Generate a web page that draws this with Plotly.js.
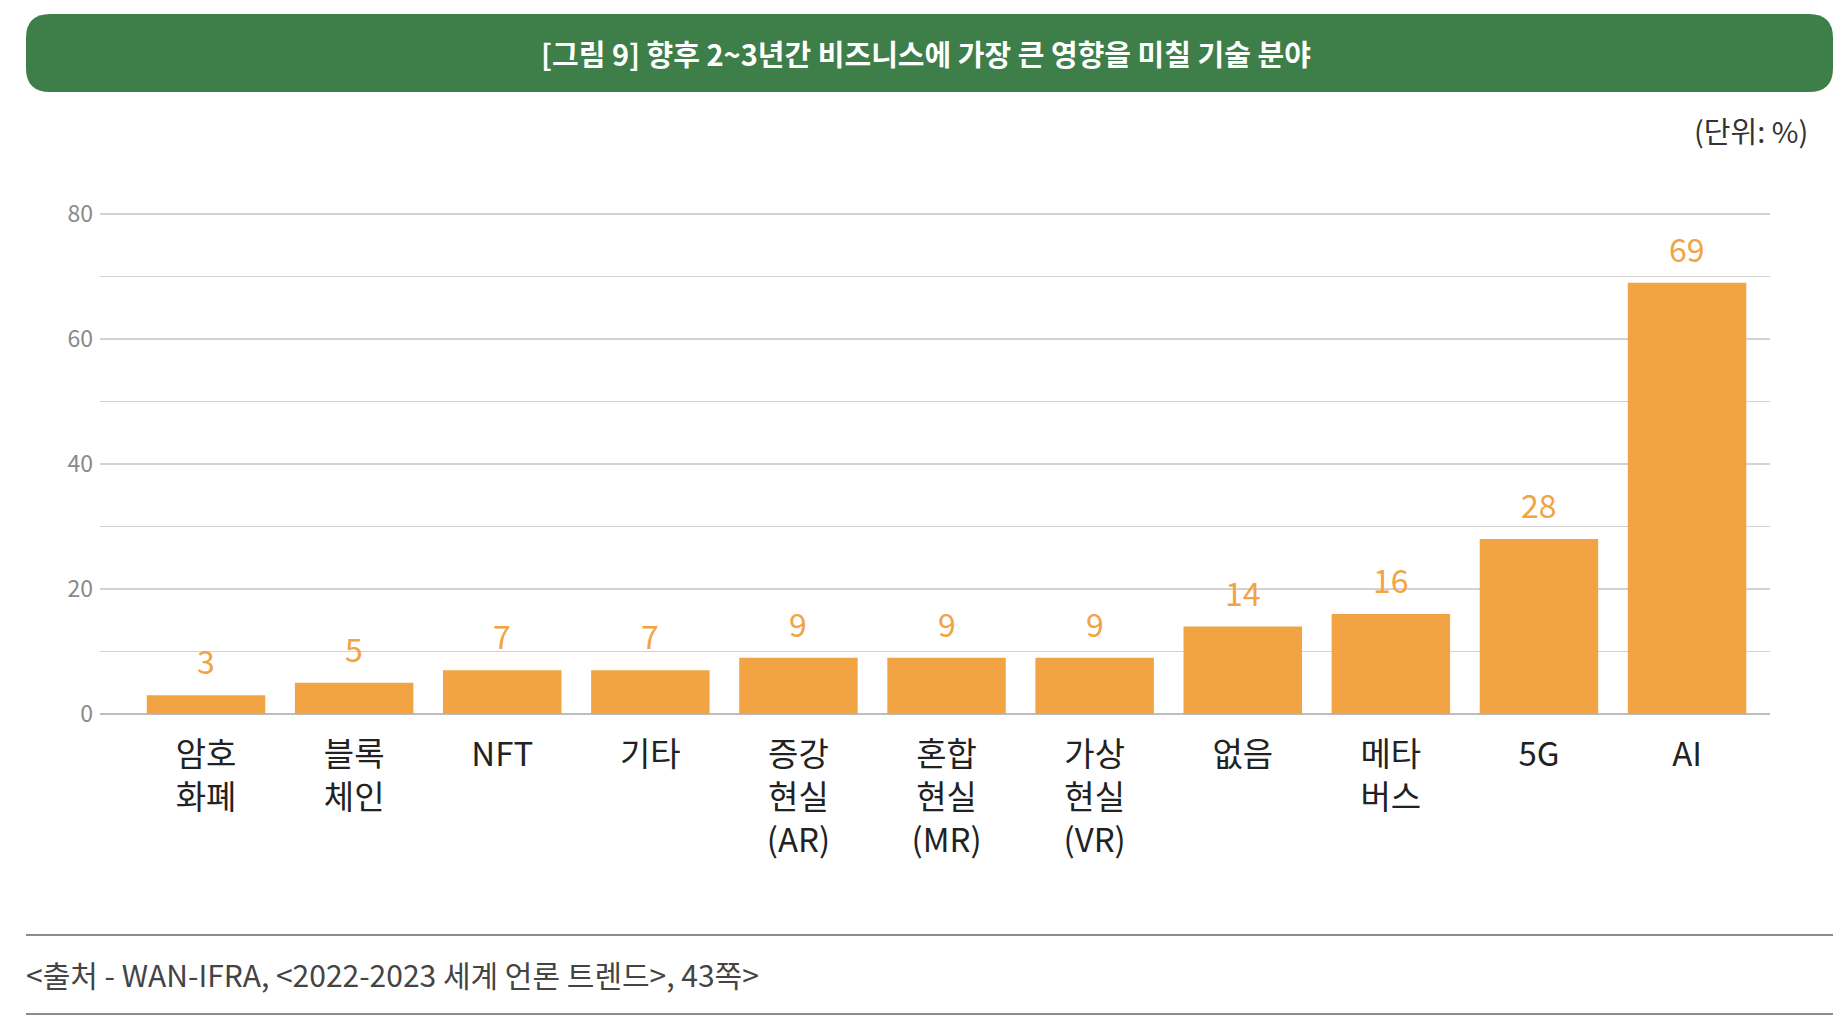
<!DOCTYPE html>
<html>
<head>
<meta charset="utf-8">
<script src="https://cdn.plot.ly/plotly-3.0.1.min.js"></script>
<style>
  html, body { margin: 0; padding: 0; background: #fff; }
  #chart { width: 1848px; height: 1031px; }
</style>
</head>
<body>
<div id="chart"></div>
<script>
const categories = ["암호<br>화폐", "블록<br>체인", "NFT", "기타", "증강<br>현실<br>(AR)", "혼합<br>현실<br>(MR)",
  "가상<br>현실<br>(VR)", "없음", "메타<br>버스", "5G", "AI"];
const shares = [3, 5, 7, 7, 9, 9, 9, 14, 16, 28, 69];
const yTicks = [0, 20, 40, 60, 80];

const titleText = "[그림 9] 향후 2~3년간 비즈니스에 가장 큰 영향을 미칠 기술 분야";
const unitText = "(단위: %)";
const sourceText = "<출처 - WAN-IFRA, <2022-2023 세계 언론 트렌드>, 43쪽>";

const FONT = "'Noto Sans CJK KR', 'Noto Sans', sans-serif";
const ORANGE = "#f2a444";
const GREEN = "#3e7e49";

// plot area in pixels (a hair above 80 so the top gridline shows)
const L = 100, R = 1770, T = 212, B = 714;
const W = R - L, H = B - T;
const px = (x) => (x - L) / W;
const py = (y) => (B - y) / H;

function roundRect(x0, y0, x1, y1, r) {
  const a = px(x0), b = px(x1), ar = px(x0 + r), br = px(x1 - r);
  const top = py(y0), bot = py(y1), topr = py(y0 + r), botr = py(y1 - r);
  return `M ${ar} ${top} L ${br} ${top} Q ${b} ${top} ${b} ${topr} L ${b} ${botr} Q ${b} ${bot} ${br} ${bot} ` +
    `L ${ar} ${bot} Q ${a} ${bot} ${a} ${botr} L ${a} ${topr} Q ${a} ${top} ${ar} ${top} Z`;
}

const valueLabels = categories.map((c, i) => ({
  x: c,
  y: shares[i],
  xref: "x",
  yref: "y",
  text: String(shares[i]),
  showarrow: false,
  yanchor: "bottom",
  yshift: 10,
  font: { family: FONT, size: 32, color: ORANGE },
}));

Plotly.newPlot(
  "chart",
  [
    {
      type: "bar",
      x: categories,
      y: shares,
      marker: { color: ORANGE },
      hoverinfo: "x+y",
    },
  ],
  {
    width: 1848,
    height: 1031,
    margin: { l: L, r: 1848 - R, t: T, b: 1031 - B },
    paper_bgcolor: "#ffffff",
    plot_bgcolor: "#ffffff",
    showlegend: false,
    bargap: 0.2,
    font: { family: FONT },
    xaxis: {
      type: "category",
      range: [-0.716, 10.56],
      showgrid: false,
      showline: false,
      ticks: "",
      tickfont: { family: FONT, size: 33, color: "#222222" },
      ticklabelstandoff: 18,
    },
    yaxis: {
      range: [0, 80.32],
      tickvals: yTicks,
      ticktext: yTicks.map(String),
      showgrid: true,
      gridcolor: "#d2d2d2",
      gridwidth: 1.5,
      zeroline: true,
      zerolinecolor: "#bdbdbd",
      zerolinewidth: 2,
      minor: { tick0: 0, dtick: 10, showgrid: true, gridcolor: "#d2d2d2", gridwidth: 1.5 },
      ticks: "",
      tickfont: { family: FONT, size: 23, color: "#8a8a8a" },
      ticklabelstandoff: 6,
    },
    shapes: [
      {
        type: "path",
        xref: "paper",
        yref: "paper",
        path: roundRect(26, 14, 1833, 92, 24),
        fillcolor: GREEN,
        line: { width: 0 },
        layer: "above",
      },
      {
        type: "line", xref: "paper", yref: "paper",
        x0: px(26), x1: px(1833), y0: py(935), y1: py(935),
        line: { color: "#8c8c8c", width: 2 },
      },
      {
        type: "line", xref: "paper", yref: "paper",
        x0: px(26), x1: px(1833), y0: py(1014), y1: py(1014),
        line: { color: "#8c8c8c", width: 2 },
      },
    ],
    annotations: [
      {
        xref: "paper", yref: "paper",
        x: px(926), y: py(53),
        xanchor: "center", yanchor: "middle",
        text: "<b>" + titleText + "</b>",
        showarrow: false,
        font: { family: FONT, size: 29, color: "#ffffff" },
      },
      {
        xref: "paper", yref: "paper",
        x: px(1810), y: py(130),
        xanchor: "right", yanchor: "middle",
        text: unitText,
        showarrow: false,
        font: { family: FONT, size: 29, color: "#333333" },
      },
      {
        xref: "paper", yref: "paper",
        x: px(24), y: py(974),
        xanchor: "left", yanchor: "middle",
        text: sourceText.replace(/</g, "&lt;").replace(/>/g, "&gt;"),
        showarrow: false,
        font: { family: FONT, size: 30, color: "#444444" },
      },
      ...valueLabels,
    ],
  },
  { displayModeBar: false, staticPlot: true }
);
</script>
</body>
</html>
